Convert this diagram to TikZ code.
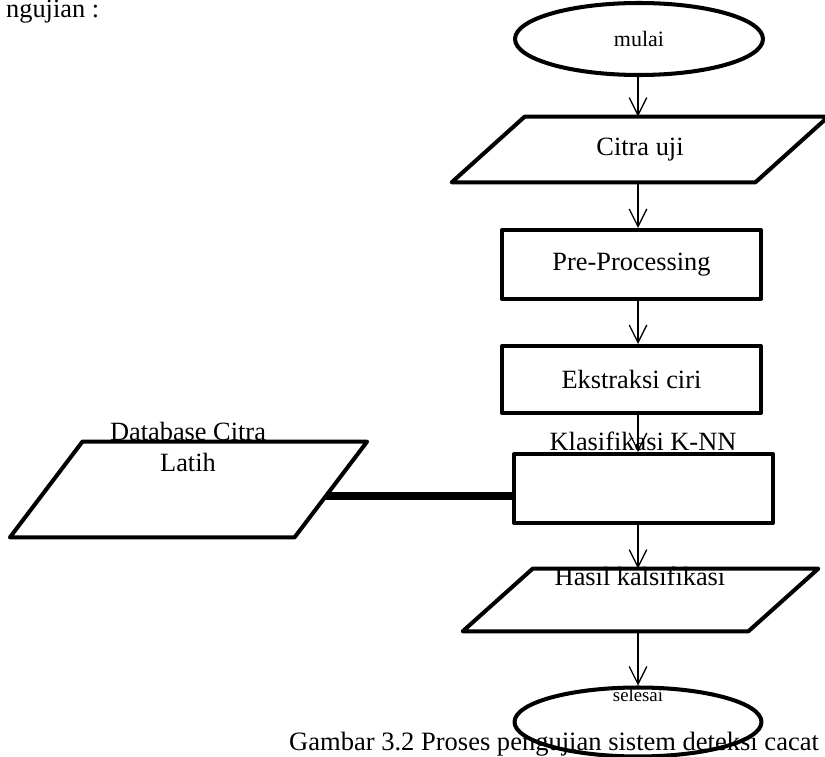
\documentclass[tikz,border=0pt]{standalone}
\usepackage{fontspec}
\setmainfont{Liberation Serif}
\usetikzlibrary{shapes,calc,positioning}
\usetikzlibrary{arrows.meta}

\begin{document}
\begin{tikzpicture}[x=0.02cm,y=-0.02cm]
  \tikzset{
  garis/.style={draw,line width=2.3pt,line join=round},
  oval/.style={garis,ellipse,inner sep=0pt},
  kotak/.style={garis,rectangle,inner sep=0pt,minimum width=5.18cm},
  jajar/.style={rectangle,inner sep=0pt},
  teks/.style={font=\fontsize{15}{17.6}\selectfont},
  panah/.style={-{Straight Barb[length=10pt,width=10pt]},line width=0.75pt},
  tebal/.style={line width=5pt},
  }
  \useasboundingbox (0,0) rectangle (825,757);
  % the shapes
  \node[oval,minimum width=4.96cm,minimum height=1.44cm,font=\fontsize{12.5}{15}\selectfont] (mulai) at (639,39) {mulai};
  \node[jajar,teks,minimum width=6.06cm,minimum height=1.3cm] (citra) at (640,149.5) {Citra uji};
  \draw[garis] ([xshift=-0.73cm]citra.south west) -- ([xshift=0.73cm]citra.north west)
    -- ([xshift=0.73cm]citra.north east) -- ([xshift=-0.73cm]citra.south east) -- cycle;
  \node[kotak,teks,minimum height=1.38cm] (pre) at (631.5,264.5) {Pre-Processing};
  \node[kotak,teks,minimum height=1.34cm] (ciri) at (631.5,379.5) {Ekstraksi ciri};
  \node[kotak,minimum height=1.38cm] (knn) at (643.5,488.5) {};
  \node[jajar,minimum width=5.68cm,minimum height=1.9cm] (db) at (188.5,489.5) {};
  \draw[garis] ([xshift=-0.725cm]db.south west) -- ([xshift=0.725cm]db.north west)
    -- ([xshift=0.725cm]db.north east) -- ([xshift=-0.725cm]db.south east) -- cycle;
  \node[jajar,minimum width=5.7cm,minimum height=1.24cm] (hasil) at (640.5,600) {};
  \draw[garis] ([xshift=-0.7cm]hasil.south west) -- ([xshift=0.7cm]hasil.north west)
    -- ([xshift=0.7cm]hasil.north east) -- ([xshift=-0.7cm]hasil.south east) -- cycle;
  \node[oval,minimum width=4.94cm,minimum height=1.38cm] (selesai) at (638,722) {};

  % the texts
  \node[teks] (ujian) at (0,18) [anchor=base west] {ngujian :};
  \node[teks,align=center] (dbteks) at (188,447) {Database Citra\\Latih};
  \node[teks] (knnteks) at (643,441) {Klasifikasi K-NN};
  \node[teks] (hasilteks) at (640,576) {Hasil kalsifikasi};
  \node[font=\fontsize{10.7}{13}\selectfont] (selesaiteks) at (638,695) {selesai};
  \node[font=\fontsize{15.1}{18}\selectfont,anchor=base west] (judul) at (283,750)
       {Gambar 3.2 Proses pengujian sistem deteksi cacat};

  % the connections
  \coordinate (jalur) at (638,0);
  \coordinate (sambung) at (0,496);
  \draw[panah] (mulai.south -| jalur) -- (citra.north -| jalur);
  \draw[panah] (citra.south -| jalur) -- (pre.north -| jalur);
  \draw[panah] (pre.south -| jalur) -- (ciri.north -| jalur);
  \draw[panah] (ciri.south -| jalur) -- (knn.north -| jalur);
  \draw[panah] (knn.south -| jalur) -- (hasil.north -| jalur);
  \draw[panah] (hasil.south -| selesai) -- (selesai.north);
  \draw[tebal] ([xshift=-0.1cm]db.east |- sambung) -- (knn.west |- sambung);
\end{tikzpicture}
\end{document}
